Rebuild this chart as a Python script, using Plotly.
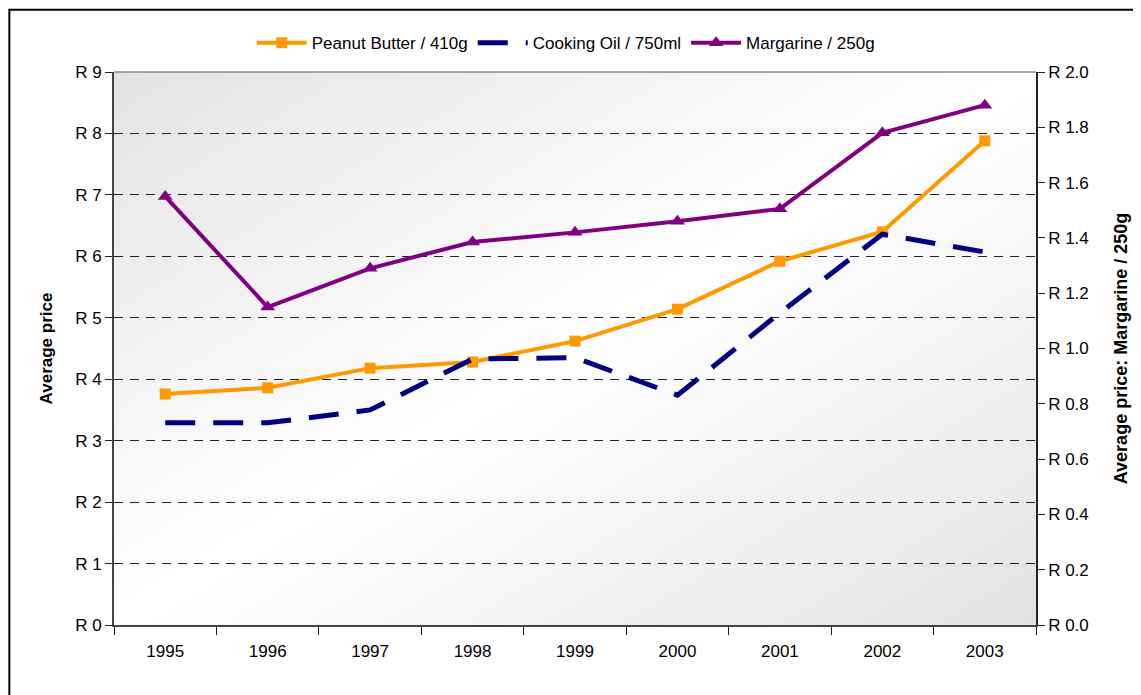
"""Average retail prices 1995-2003: peanut butter, cooking oil and margarine."""

import base64

import plotly.graph_objects as go

years = ["1995", "1996", "1997", "1998", "1999", "2000", "2001", "2002", "2003"]
peanut_butter = [3.76, 3.86, 4.18, 4.28, 4.62, 5.14, 5.92, 6.40, 7.88]
cooking_oil = [3.29, 3.29, 3.50, 4.33, 4.35, 3.74, 5.08, 6.36, 6.07]
margarine = [1.55, 1.15, 1.29, 1.385, 1.42, 1.46, 1.505, 1.78, 1.88]

left_ticks = list(range(0, 10))
right_ticks = [i / 5 for i in range(0, 11)]
left_labels = [f"R {v}" for v in left_ticks]
right_labels = [f"R {v:.1f}" for v in right_ticks]

FONT = "Liberation Sans, Arial, sans-serif"

# diagonal grey-white-grey background, as an inline svg
svg = (
    '<svg xmlns="http://www.w3.org/2000/svg" width="100" height="100" preserveAspectRatio="none">'
    '<defs><linearGradient id="g" x1="0" y1="0" x2="1" y2="1">'
    '<stop offset="0" stop-color="#e3e3e3"/>'
    '<stop offset="0.5" stop-color="#ffffff"/>'
    '<stop offset="1" stop-color="#e2e2e2"/>'
    "</linearGradient></defs>"
    '<rect width="100" height="100" fill="url(#g)"/></svg>'
)
bg_src = "data:image/svg+xml;base64," + base64.b64encode(svg.encode()).decode()

fig = go.Figure()
fig.add_trace(go.Scatter(
    x=years, y=peanut_butter, name="Peanut Butter / 410g", mode="lines+markers",
    line=dict(color="#ff9900", width=4),
    marker=dict(symbol="square", size=11, color="#ff9900"),
))
fig.add_trace(go.Scatter(
    x=years, y=cooking_oil, name="Cooking Oil / 750ml", mode="lines",
    line=dict(color="#000080", width=5, dash="30px,18px"),
))
fig.add_trace(go.Scatter(
    x=years, y=margarine, name="Margarine / 250g", mode="lines+markers", yaxis="y2",
    line=dict(color="#800080", width=4),
    marker=dict(symbol="triangle-up", size=13, color="#800080"),
))

# page body adds ~8px, so margins are shifted to land the plot at x 114-1036, y 72-625
fig.update_layout(
    width=1141,
    height=695,
    margin=dict(l=106, r=113, t=64, b=78),
    paper_bgcolor="white",
    plot_bgcolor="rgba(0,0,0,0)",
    font=dict(family=FONT, size=17, color="black"),
    showlegend=True,
    legend=dict(
        orientation="h", x=0.49, xanchor="center", y=1.052, yanchor="middle",
        font=dict(size=17), bgcolor="rgba(0,0,0,0)", itemwidth=50,
    ),
    xaxis=dict(
        type="category", range=[-0.5, 8.5], tickson="boundaries",
        ticks="outside", ticklen=8, tickcolor="#222", tickwidth=1,
        ticklabelstandoff=10,
        showline=True, linecolor="#444", linewidth=2,
        showgrid=False, zeroline=False, tickfont=dict(size=17),
    ),
    yaxis=dict(
        title=dict(text="<b>Average price</b>", font=dict(size=17), standoff=18),
        range=[0, 9], tickmode="array", tickvals=left_ticks, ticktext=left_labels,
        ticks="outside", ticklen=7, tickcolor="#222",
        showline=True, linecolor="#444", linewidth=2,
        showgrid=True, gridcolor="#222", gridwidth=1, griddash="9px,7px",
        zeroline=False, tickfont=dict(size=17),
    ),
    yaxis2=dict(
        title=dict(text="<b>Average price: Margarine / 250g</b>", font=dict(size=18), standoff=27),
        overlaying="y", side="right", range=[0, 2.0],
        tickmode="array", tickvals=right_ticks, ticktext=right_labels,
        ticks="outside", ticklen=7, tickcolor="#222",
        showline=True, linecolor="#222", linewidth=1.5,
        showgrid=False, zeroline=False, tickfont=dict(size=17),
    ),
    images=[dict(
        source=bg_src, xref="paper", yref="paper", x=0, y=1, sizex=1, sizey=1,
        xanchor="left", yanchor="top", sizing="stretch", layer="below",
    )],
    shapes=[
        # thin top border of the plot area
        dict(type="line", xref="paper", yref="paper", x0=0, x1=1, y0=1, y1=1,
             line=dict(color="#888", width=1.5)),
        # outer chart frame, just inside the figure edges
        dict(type="rect", xref="paper", yref="paper",
             x0=-0.1135, x1=1.1125, y0=-0.16, y1=1.1125,
             line=dict(color="black", width=2)),
    ],
)

fig.write_html("out.html")
